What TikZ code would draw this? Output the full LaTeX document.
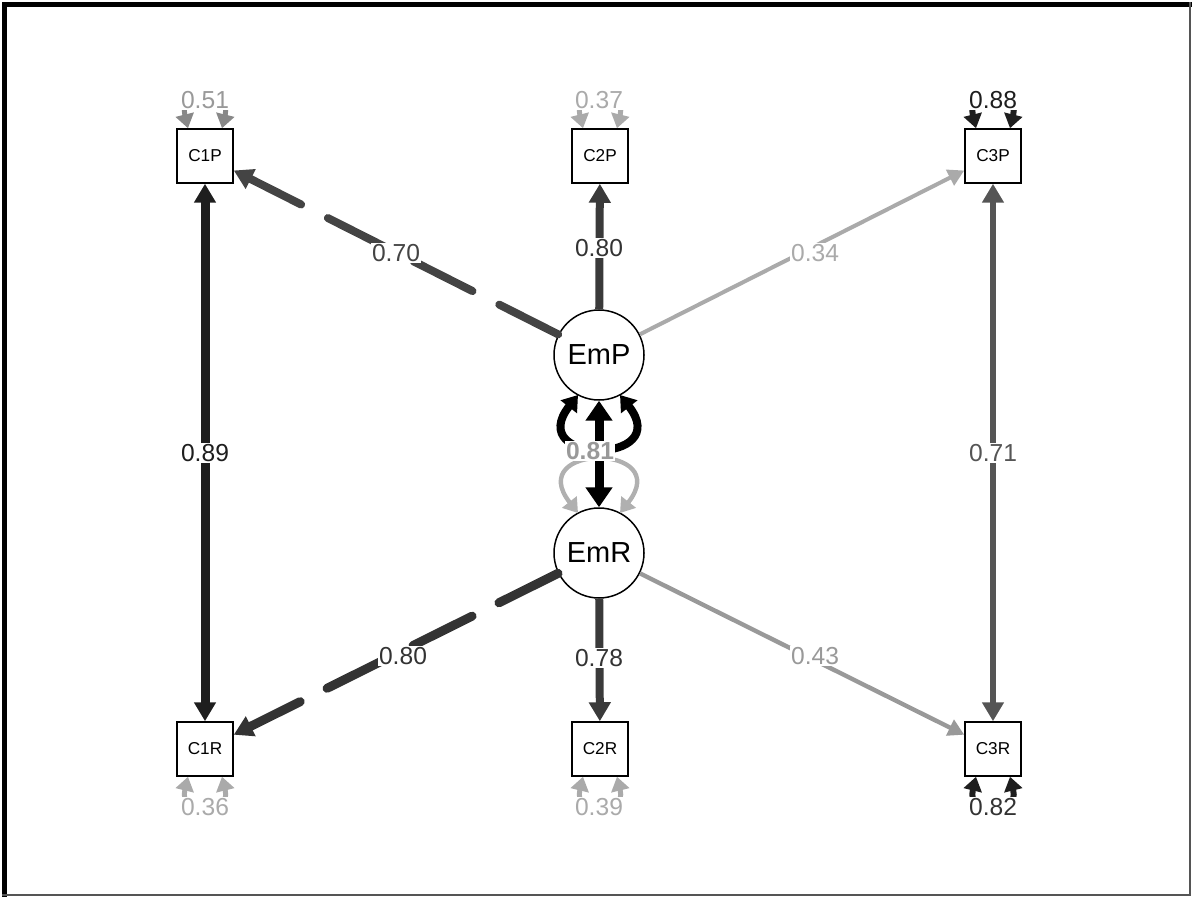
\documentclass[tikz,border=0pt]{standalone}
\usepackage{fontspec}
\setmainfont{Liberation Sans}
\usetikzlibrary{arrows.meta}

% edge and label shades
\definecolor{inkA}{HTML}{1E1E1E}
\definecolor{inkB}{HTML}{555555}
\definecolor{inkC}{HTML}{444444}
\definecolor{inkD}{HTML}{3A3A3A}
\definecolor{inkE}{HTML}{AAAAAA}
\definecolor{inkF}{HTML}{333333}
\definecolor{inkG}{HTML}{999999}
\definecolor{inkH}{HTML}{888888}
\definecolor{inkI}{HTML}{B0B0B0}
\definecolor{frameR}{HTML}{555555}

\begin{document}
\begin{tikzpicture}[x=0.5pt,y=-0.5pt,
  obs/.style={draw=black,line width=0.75pt,fill=white,minimum width=28pt,
    minimum height=27pt,inner sep=0pt,font=\fontsize{8.6}{10}\selectfont},
  lat/.style={draw=black,line width=0.75pt,fill=white,circle,minimum size=45pt,
    inner sep=0pt,font=\fontsize{14.5}{17}\selectfont},
  lbl/.style={fill=white,inner sep=0.6pt,font=\fontsize{12.3}{14}\selectfont},
  bigtip/.style={-{Triangle[length=9.5pt,width=10.5pt]}},
  smalltip/.style={-{Triangle[length=8pt,width=8.5pt]}},
  bothtips/.style={{Triangle[length=9.5pt,width=10.5pt]}-{Triangle[length=9.5pt,width=10.5pt]}},
  resid/.style={line width=2.5pt,{Triangle[length=7pt,width=9pt]}-{Triangle[length=7pt,width=9pt]}},
  brk/.style={line cap=round,dash pattern=on 33pt off 15pt}
]
\useasboundingbox (0,0) rectangle (1192,897);

% frame
\fill[black] (2,2) rectangle (7,897);
\fill[black] (2,2) rectangle (1192,7);
\draw[frameR,line width=1pt] (1190,2) -- (1190,895) -- (2,895);

% indicators
\node[obs] (c1p) at (205,156) {C1P};
\node[obs] (c2p) at (600,156) {C2P};
\node[obs] (c3p) at (993,156) {C3P};
\node[obs] (c1r) at (205,749) {C1R};
\node[obs] (c2r) at (600,749) {C2R};
\node[obs] (c3r) at (993,749) {C3R};

% latent factors
\node[lat] (emp) at (599,355) {EmP};
\node[lat] (emr) at (599,553) {EmR};

% residual covariances between paired indicators
\draw[bothtips,inkA,line width=4.5pt] (c1p) -- (c1r);
\draw[bothtips,inkB,line width=3.2pt] (c3p) -- (c3r);

% loadings
\draw[bigtip,inkC,line width=4pt,brk] (emp) -- (c1p);
\draw[bigtip,inkD,line width=4pt] (emp) -- (c2p);
\draw[smalltip,inkE,line width=2pt] (emp) -- (c3p);
\draw[bigtip,inkF,line width=4.5pt,brk] (emr) -- (c1r);
\draw[bigtip,inkD,line width=4pt] (emr) -- (c2r);
\draw[smalltip,inkG,line width=2.2pt] (emr) -- (c3r);

% residual variances of indicators
\draw[resid,inkH] ([xshift=-8.5pt]c1p.north) .. controls +(-10,-41) and +(10,-41) .. ([xshift=8.5pt]c1p.north);
\draw[resid,inkE] ([xshift=-8.5pt]c2p.north) .. controls +(-10,-41) and +(10,-41) .. ([xshift=8.5pt]c2p.north);
\draw[resid,inkA,line width=3pt] ([xshift=-8.5pt]c3p.north) .. controls +(-10,-41) and +(10,-41) .. ([xshift=8.5pt]c3p.north);
\draw[resid,inkE] ([xshift=-8.5pt]c1r.south) .. controls +(-10,41) and +(10,41) .. ([xshift=8.5pt]c1r.south);
\draw[resid,inkE] ([xshift=-8.5pt]c2r.south) .. controls +(-10,41) and +(10,41) .. ([xshift=8.5pt]c2r.south);
\draw[resid,inkA,line width=3pt] ([xshift=-8.5pt]c3r.south) .. controls +(-10,41) and +(10,41) .. ([xshift=8.5pt]c3r.south);

% factor variances
\draw[black,line width=4pt,{Triangle[length=7.5pt,width=10pt]}-{Triangle[length=7.5pt,width=10pt]}]
  ([shift={(-21,40)}]emp.center) .. controls +(-55,70) and +(55,70) .. ([shift={(21,40)}]emp.center);
\draw[inkI,line width=2.2pt,{Triangle[length=7pt,width=9pt]}-{Triangle[length=7pt,width=9pt]}]
  ([shift={(-21,-40)}]emr.center) .. controls +(-55,-70) and +(55,-70) .. ([shift={(21,-40)}]emr.center);

% factor covariance
\draw[black,line width=4.5pt,{Triangle[length=10pt,width=13pt]}-{Triangle[length=10pt,width=13pt]}] (emp) -- (emr);

% estimates
\node[lbl,text=inkC] (l1) at (396,253) {0.70};
\node[lbl,text=inkF] (l2) at (599,248) {0.80};
\node[lbl,text=inkE] (l3) at (815,253) {0.34};
\node[lbl,text=inkA] (l4) at (205,453) {0.89};
\node[lbl,text=inkB] (l5) at (993,453) {0.71};
\node[lbl,text=inkF] (l6) at (403,656) {0.80};
\node[lbl,text=inkF] (l7) at (599,658) {0.78};
\node[lbl,text=inkG] (l8) at (815,656) {0.43};
\node[lbl,text=inkG,font=\fontsize{12.3}{14}\selectfont\bfseries] (l9) at (590,451) {0.81};

\node[lbl,text=inkG] (v1) at (205,100) {0.51};
\node[lbl,text=inkE] (v2) at (599,100) {0.37};
\node[lbl,text=inkA] (v3) at (993,100) {0.88};
\node[lbl,text=inkE] (v4) at (205,807) {0.36};
\node[lbl,text=inkE] (v5) at (599,807) {0.39};
\node[lbl,text=inkF] (v6) at (993,807) {0.82};
\end{tikzpicture}
\end{document}
